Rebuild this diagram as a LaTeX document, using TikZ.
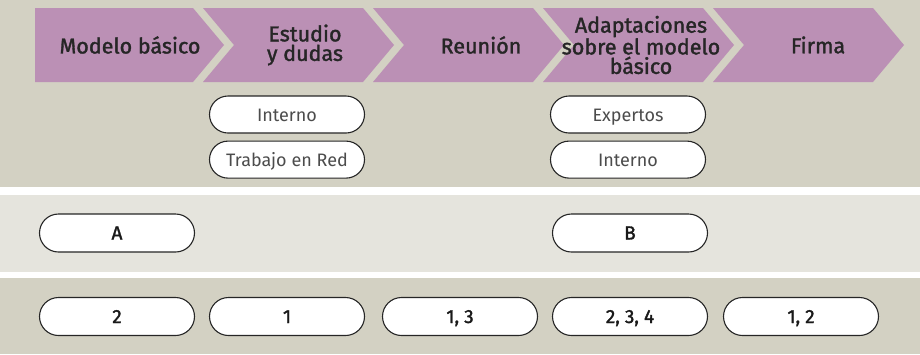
\documentclass[tikz,border=0pt]{standalone}
\usepackage{fontspec}
\setmainfont{Fira Sans}
\newfontfamily\mediumfont[FakeBold=1.6]{Fira Sans}
\usepackage{xcolor,tikz}
\usetikzlibrary{positioning,shapes.misc}
\tikzset{>=stealth}
\definecolor{mauve}{RGB}{187,144,181}
\definecolor{sand}{RGB}{211,209,195}
\definecolor{lightsand}{RGB}{229,228,221}
\tikzset{
  phase/.style={font=\mediumfont\fontsize{21.5}{19.5}\selectfont,align=center,text=black!85},
  pill/.style={draw=black!85,rounded rectangle,fill=white,line width=1.1pt,
    minimum width=155pt,minimum height=38pt,inner sep=0pt,text height=14pt,text depth=1pt},
  lightpill/.style={pill,minimum height=37pt,font=\fontsize{18}{20}\selectfont,text=black!70},
  tagpill/.style={pill,font=\mediumfont\fontsize{19}{20}\selectfont,text=black!90}
}

\begin{document}
\begin{tikzpicture}[x=1pt,y=-1pt]
\useasboundingbox (0,0) rectangle (920,354);
% bands
\fill[sand] (0,0) rectangle (920,187);
\fill[lightsand] (0,195) rectangle (920,272);
\fill[sand] (0,278) rectangle (920,354);
% chevrons
\fill[mauve] (35,8)--(193,8)--(224,45)--(193,82)--(35,82)--cycle;
\foreach \i in {1,...,4}{
\fill[mauve] ({33+170*\i},8)--({193+170*\i},8)--({224+170*\i},45)
  --({193+170*\i},82)--({33+170*\i},82)--({64+170*\i},45)--cycle;
};
\node[phase] (modelo) at (130,45) {Modelo básico};
\node[phase] (estudio) at (305,45) {Estudio\\y dudas};
\node[phase] (reunion) at (481,45) {Reunión};
\node[phase] (adapt) at (641,45) {Adaptaciones\\sobre el modelo\\básico};
\node[phase] (firma) at (818,45) {Firma};
% who takes part
\node[lightpill] (interno) at (287,114.5) {Interno};
\node[lightpill,below=7pt of interno] (red) {Trabajo en Red};
\node[lightpill] (expertos) at (628,114.5) {Expertos};
\node[lightpill,below=7pt of expertos] (internob) {Interno};
% documents
\node[tagpill] (docA) at (117,233) {A};
\node[tagpill] (docB) at (630,233) {B};
% steps
\foreach \x/\t [count=\n] in {117/2,287/1,460/{1, 3},630/{2, 3, 4},801/{1, 2}}{
\node[tagpill] (step\n) at (\x,316.5) {\t};
};
\end{tikzpicture}
\end{document}
